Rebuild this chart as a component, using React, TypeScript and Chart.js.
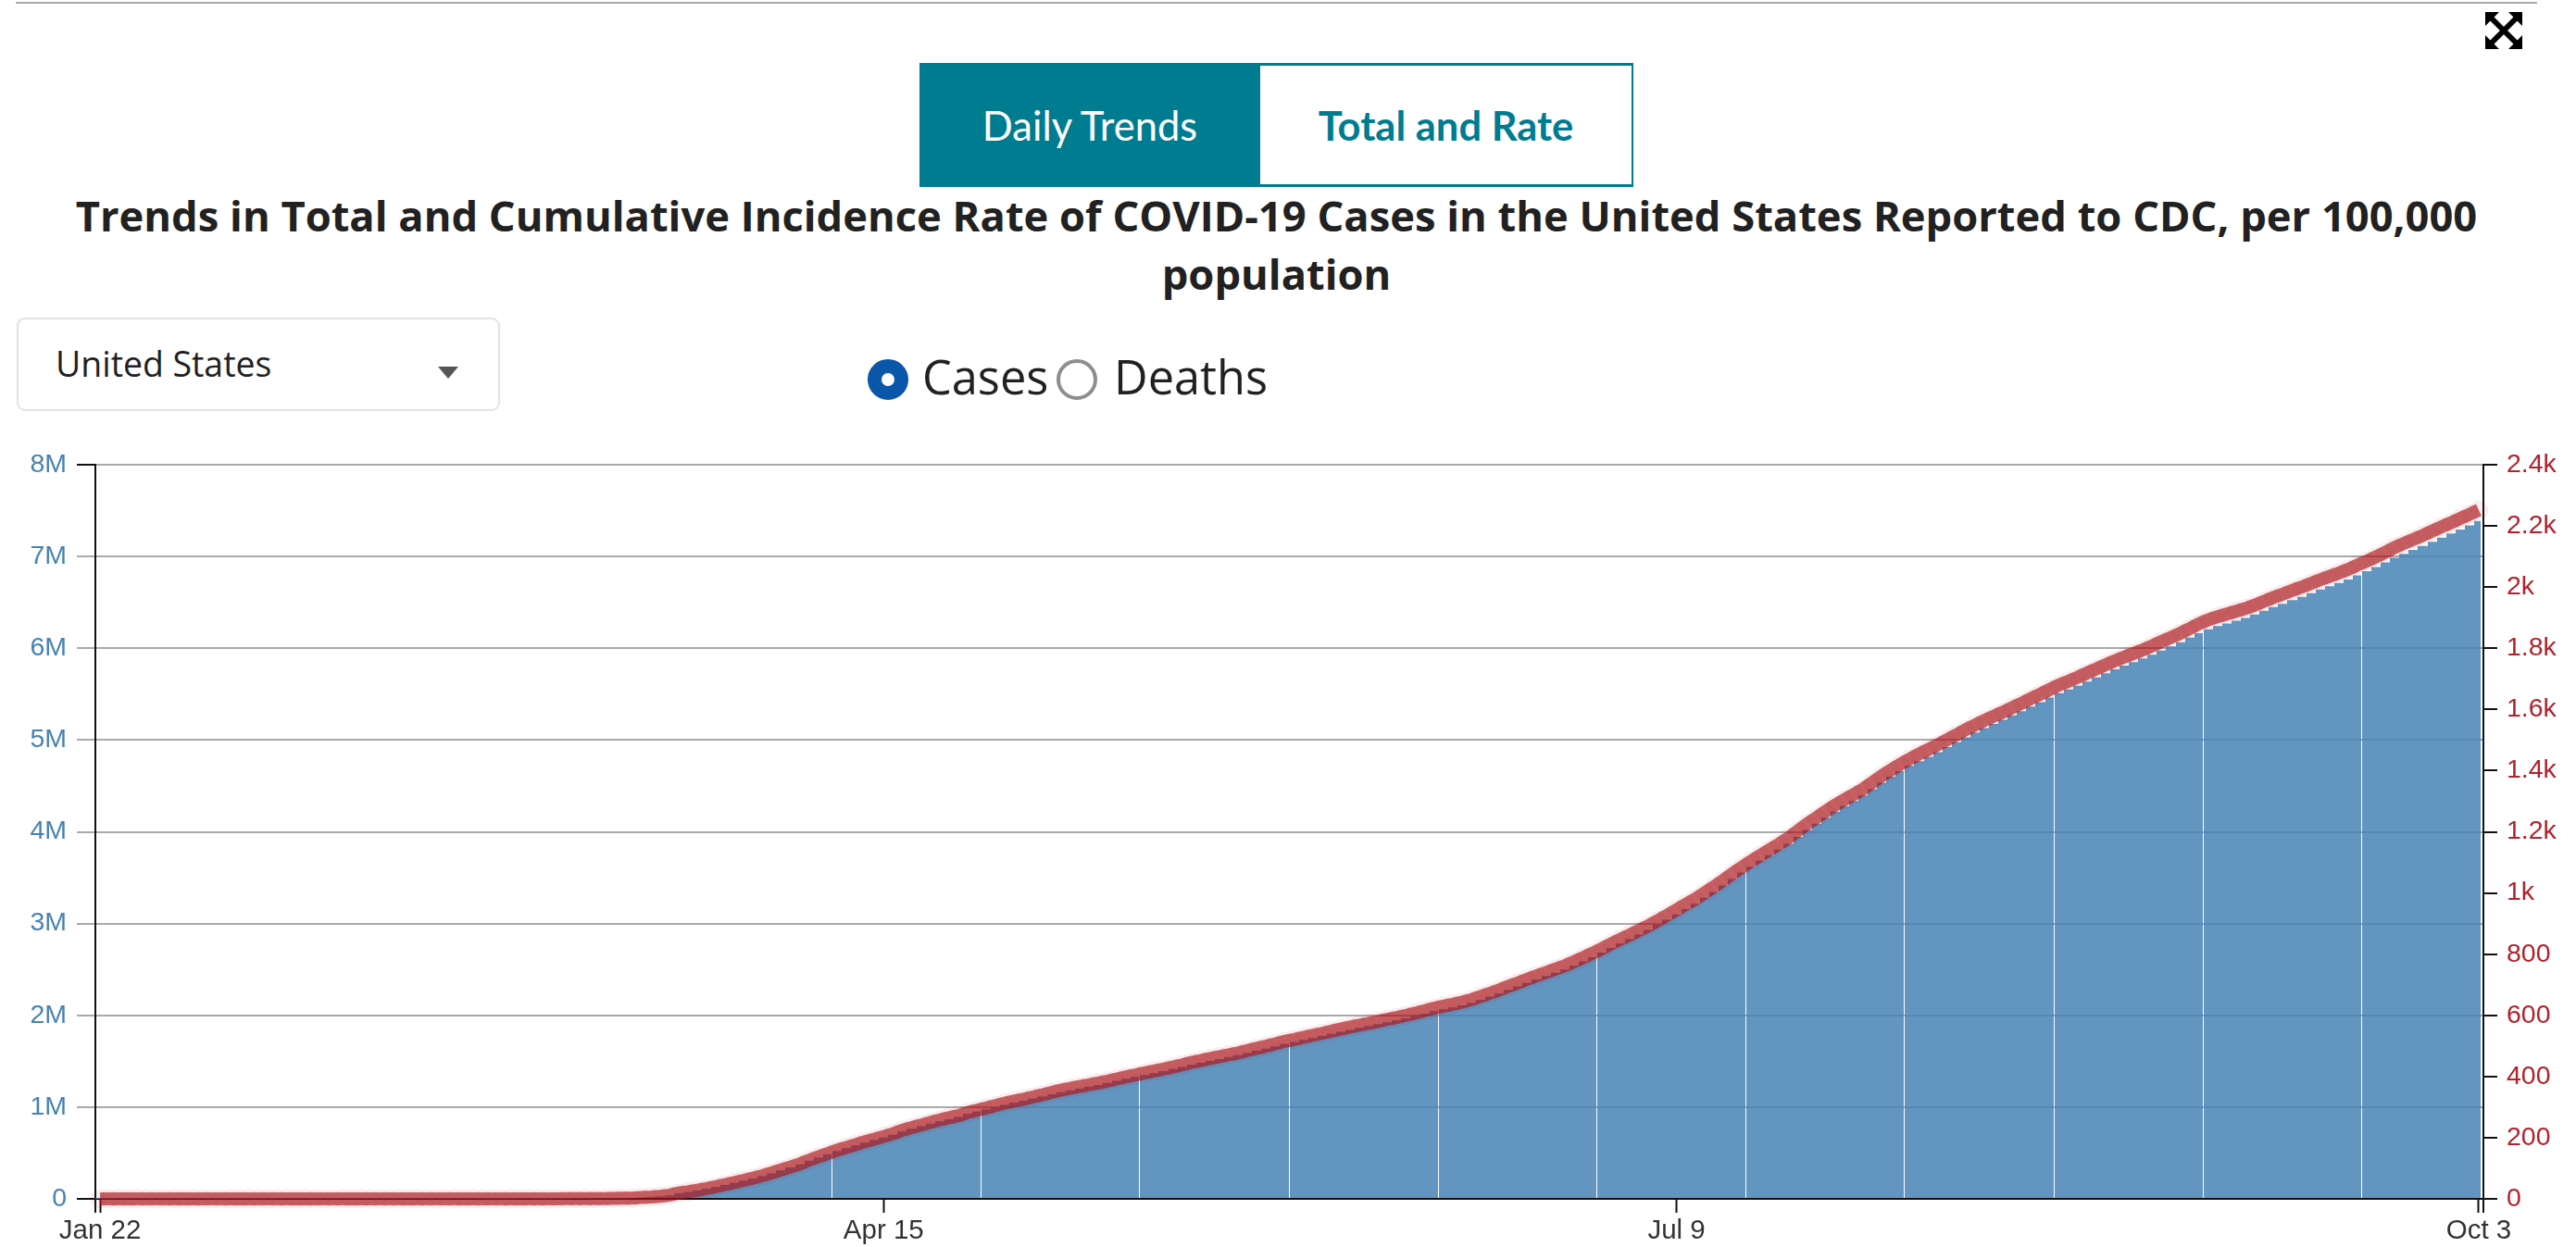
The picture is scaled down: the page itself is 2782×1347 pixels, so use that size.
import React, { useEffect, useRef } from "react";
import { Chart, registerables } from "chart.js";

Chart.register(...registerables);

const startLabels = ["Jan 22", "Apr 15", "Jul 9", "Oct 3"];
const labelledDays = [0, 84, 169, 255];
const casesTickLabels = ["0", "1M", "2M", "3M", "4M", "5M", "6M", "7M", "8M"];
const rateTickLabels = ["0", "200", "400", "600", "800", "1k", "1.2k", "1.4k", "1.6k", "1.8k", "2k", "2.2k", "2.4k"];
const seamDays = [78, 94, 111, 127, 143, 160, 176, 193, 209, 225, 242];

// total cases, thousands
const totalCases = [
  0.001, 0.001, 0.002, 0.002, 0.005, 0.005, 0.005, 0.005, 0.006, 0.006,
  0.007, 0.008, 0.008, 0.008, 0.008, 0.011, 0.011, 0.011, 0.012, 0.012,
  0.012, 0.012, 0.012, 0.012, 0.013, 0.013, 0.014, 0.014, 0.015, 0.015,
  0.015, 0.016, 0.016, 0.017, 0.019, 0.024, 0.042, 0.057, 0.064, 0.075,
  0.1, 0.12, 0.15, 0.2, 0.25, 0.35, 0.45, 0.58, 0.7, 0.95,
  1.3, 1.6, 2.2, 2.9, 3.5, 4.7, 6.4, 7.8, 13.7, 19.1,
  27, 38, 62, 75, 92, 110, 130, 152, 175, 198,
  222, 248, 278, 310, 342, 375, 415, 450, 485, 520,
  552, 582, 612, 640, 668, 698, 735, 765, 792, 820,
  845, 868, 892, 925, 950, 975, 1000, 1025, 1048, 1070,
  1092, 1116, 1140, 1163, 1183, 1203, 1222, 1242, 1264, 1287,
  1308, 1330, 1350, 1370, 1392, 1414, 1438, 1462, 1484, 1504,
  1524, 1545, 1566, 1590, 1614, 1638, 1662, 1688, 1710, 1732,
  1754, 1776, 1798, 1820, 1842, 1864, 1884, 1904, 1924, 1946,
  1968, 1992, 2018, 2045, 2065, 2085, 2108, 2136, 2170, 2205,
  2240, 2278, 2316, 2354, 2392, 2428, 2464, 2500, 2542, 2588,
  2634, 2684, 2734, 2784, 2832, 2880, 2930, 2985, 3042, 3100,
  3158, 3216, 3280, 3345, 3415, 3485, 3555, 3620, 3685, 3745,
  3805, 3870, 3945, 4020, 4088, 4155, 4220, 4280, 4335, 4395,
  4465, 4535, 4600, 4660, 4718, 4770, 4818, 4868, 4922, 4975,
  5030, 5082, 5130, 5175, 5220, 5268, 5315, 5365, 5412, 5462,
  5510, 5550, 5592, 5637, 5682, 5727, 5770, 5810, 5848, 5888,
  5930, 5975, 6020, 6065, 6115, 6165, 6208, 6242, 6270, 6300,
  6330, 6368, 6408, 6448, 6485, 6525, 6560, 6600, 6640, 6675,
  6710, 6750, 6795, 6840, 6885, 6935, 6985, 7030, 7072, 7115,
  7160, 7205, 7250, 7295, 7340, 7386,
];

// cumulative incidence per 100,000
const incidenceRate = [
  0, 0, 0, 0, 0, 0, 0, 0, 0, 0,
  0, 0, 0, 0, 0, 0, 0, 0, 0, 0,
  0, 0, 0, 0, 0, 0, 0, 0, 0, 0,
  0, 0, 0, 0, 0.01, 0.01, 0.01, 0.02, 0.02, 0.02,
  0.03, 0.04, 0.05, 0.06, 0.08, 0.11, 0.14, 0.18, 0.21, 0.29,
  0.4, 0.5, 0.7, 0.9, 1.1, 1.4, 2, 2.4, 4.2, 5.8,
  8.2, 11.6, 18.9, 22.9, 28, 33.5, 39.6, 46.3, 53.4, 60.4,
  67.7, 75.6, 84.8, 94.5, 104, 114, 126.5, 137, 148, 159,
  168, 177, 187, 195, 204, 213, 224, 233, 241, 250,
  258, 265, 272, 282, 290, 297, 305, 313, 320, 326,
  333, 340, 348, 355, 361, 367, 373, 379, 385, 392,
  399, 405, 412, 418, 424, 431, 438, 446, 452, 459,
  465, 471, 477, 485, 492, 499, 507, 515, 521, 528,
  535, 541, 548, 555, 562, 568, 574, 580, 587, 593,
  600, 607, 615, 623, 630, 636, 643, 651, 662, 672,
  683, 695, 706, 718, 729, 740, 751, 762, 775, 789,
  803, 818, 834, 849, 863, 878, 893, 910, 927, 945,
  963, 980, 1000, 1020, 1041, 1063, 1084, 1104, 1123, 1142,
  1160, 1180, 1203, 1226, 1246, 1267, 1287, 1305, 1322, 1340,
  1361, 1383, 1402, 1421, 1438, 1454, 1469, 1484, 1501, 1517,
  1534, 1549, 1564, 1578, 1591, 1606, 1620, 1636, 1650, 1665,
  1680, 1692, 1705, 1719, 1732, 1746, 1759, 1771, 1783, 1795,
  1808, 1822, 1835, 1849, 1864, 1880, 1893, 1903, 1912, 1921,
  1930, 1941, 1954, 1966, 1977, 1989, 2000, 2012, 2024, 2035,
  2046, 2058, 2072, 2085, 2099, 2114, 2130, 2143, 2156, 2169,
  2183, 2197, 2210, 2224, 2238, 2252,
];

const dayLabels = totalCases.map((_, i) => {
  const at = labelledDays.indexOf(i);
  return at >= 0 ? startLabels[at] : "";
});

const TEAL = "#007c91";
const Y_FONT = { family: "'Liberation Sans'", size: 28.5 };
const X_FONT = { family: "'Liberation Sans'", size: 29.5 };

// Snap the bars to whole pixels so neighbours do not seam, keeping only the chart's hairline gaps.
const snapBars = {
  id: "snapBars",
  afterDatasetsUpdate(chart: any) {
    const bars = chart.getDatasetMeta(1).data;
    const lefts = bars.map((b: any) => Math.round(b.x - b.width / 2));
    const end = Math.round(bars[bars.length - 1].x + bars[bars.length - 1].width / 2) - 3;
    bars.forEach((b: any, i: number) => {
      const right = i + 1 < lefts.length ? lefts[i + 1] : end;
      const w = right - lefts[i] - (seamDays.includes(i) ? 1 : 0);
      b.width = w;
      b.x = lefts[i] + w / 2;
    });
  },
};

// The two y axis lines run on below the baseline as outer ticks.
const outerTicks = {
  id: "outerTicks",
  afterDraw(chart: any) {
    const { ctx, chartArea } = chart;
    ctx.save();
    ctx.strokeStyle = "#111";
    ctx.lineWidth = 2;
    [chart.scales.y.right, chart.scales.yR.left].forEach((x: number) => {
      ctx.beginPath();
      ctx.moveTo(Math.round(x), chartArea.bottom);
      ctx.lineTo(Math.round(x), chartArea.bottom + 15);
      ctx.stroke();
    });
    ctx.restore();
  },
};

export default function App() {
  const ref = useRef<HTMLCanvasElement>(null);

  useEffect(() => {
    const chart = new Chart(ref.current as HTMLCanvasElement, {
      type: "bar",
      plugins: [snapBars, outerTicks],
      data: {
        labels: dayLabels,
        datasets: [
          {
            type: "line",
            data: incidenceRate,
            yAxisID: "yR",
            order: 0,
            clip: false,
            borderColor: "rgba(170,20,25,0.65)",
            borderWidth: 14,
            borderCapStyle: "butt",
            tension: 0,
            pointRadius: 10.5,
            pointHoverRadius: 10.5,
            pointBorderWidth: 0,
            pointBackgroundColor: "rgba(170,20,25,0.07)",
          },
          {
            type: "bar",
            data: totalCases,
            yAxisID: "y",
            order: 1,
            backgroundColor: "rgba(70,130,180,0.85)",
            borderWidth: 0,
            barPercentage: 1,
            categoryPercentage: 1,
            inflateAmount: 0,
          },
        ],
      } as any,
      options: {
        animation: false,
        responsive: false,
        layout: { padding: { top: 32, left: 0, right: 0, bottom: 0 } },
        plugins: { legend: { display: false }, tooltip: { enabled: false }, title: { display: false } },
        scales: {
          x: {
            type: "category",
            offset: true,
            afterBuildTicks: (s: any) => {
              s.ticks = labelledDays.map((d) => ({ value: d, label: dayLabels[d] }));
            },
            afterFit: (s: any) => { s.height = 52; },
            ticks: {
              autoSkip: false, maxRotation: 0, minRotation: 0, padding: 2,
              color: "#333", font: X_FONT,
              callback: (_: any, i: number) => startLabels[i],
            },
            grid: { offset: false, drawOnChartArea: false, drawTicks: true, tickLength: 15, tickColor: "#111", tickWidth: 2 },
            border: { display: true, color: "#111", width: 2 },
          },
          y: {
            position: "left", min: 0, max: 8000,
            afterFit: (s: any) => { s.width = 103; },
            ticks: {
              stepSize: 1000, color: "#4682b4", font: Y_FONT, padding: 11,
              callback: (v: any) => casesTickLabels[Math.round(v / 1000)],
            },
            grid: {
              color: (c: any) => (c.tick && c.tick.value === 0 ? "#111" : "#aaa"),
              lineWidth: 2,
              tickLength: 20,
              tickColor: (c: any) => (c.tick && (c.tick.value === 0 || c.tick.value === 8000) ? "#111" : "#aaa"),
            },
            border: { display: true, color: "#111", width: 2 },
          },
          yR: {
            position: "right", min: 0, max: 2400,
            afterFit: (s: any) => { s.width = 100; },
            ticks: {
              stepSize: 200, color: "#b2222b", font: Y_FONT, padding: 10,
              callback: (v: any) => rateTickLabels[Math.round(v / 200)],
            },
            grid: { drawOnChartArea: false, tickLength: 15, tickColor: "#111", lineWidth: 2, tickWidth: 2 },
            border: { display: true, color: "#111", width: 2 },
          },
        },
      } as any,
    });
    return () => chart.destroy();
  }, []);

  const abs = (l: number, t: number, extra: any = {}) => ({ position: "absolute", left: l, top: t, whiteSpace: "nowrap", ...extra });

  return (
    <div style={{ position: "absolute", left: 0, top: 0, width: 2782, height: 1347, overflow: "hidden", background: "#fff", fontFamily: "'Open Sans'", color: "#212121" } as any}>
      <div style={abs(17, 2, { width: 2723, height: 2, background: "#aaa" }) as any} />
      <svg viewBox="0 0 40 40" width={40} height={40} style={abs(2684, 13) as any}>
        <path d="M7 7L33 33M33 7L7 33" stroke="#000" strokeWidth={6} fill="none" />
        <path d="M0 0h15L0 15zM40 0v15L25 0zM0 40V25l15 15zM40 40H25l15-15z" fill="#000" />
      </svg>

      <div style={abs(993, 68, { width: 368, height: 134, background: TEAL, color: "#fff", font: "400 43.5px Lato", textAlign: "center", lineHeight: "134px" }) as any}>Daily Trends</div>
      <div style={abs(1361, 68, { width: 403, height: 134, boxSizing: "border-box", borderStyle: "solid", borderColor: TEAL, borderWidth: "3px 2px 3px 0", color: TEAL, font: "700 43.5px Lato", textAlign: "center", lineHeight: "128px" }) as any}>Total and Rate</div>

      <div style={abs(0, 201, { width: 2757, textAlign: "center", font: "700 45.3px 'Open Sans'", lineHeight: "63px" }) as any}>
        <div>Trends in Total and Cumulative Incidence Rate of COVID-19 Cases in the United States Reported to CDC, per 100,000</div>
        <div>population</div>
      </div>

      <div style={abs(18, 343, { width: 522, height: 101, boxSizing: "border-box", border: "2px solid #e2e2e2", borderRadius: 9 }) as any} />
      <div style={abs(60, 368, { font: "400 37.4px 'Open Sans'", lineHeight: "50px" }) as any}>United States</div>
      <div style={abs(473, 396, { width: 0, height: 0, borderLeft: "11px solid transparent", borderRight: "11px solid transparent", borderTop: "13px solid #555" }) as any} />

      <div style={abs(937, 388, { width: 44, height: 44, boxSizing: "border-box", borderRadius: "50%", border: "15px solid #0a56a8" }) as any} />
      <div style={abs(996, 372, { font: "400 50.5px 'Open Sans'", lineHeight: "70px" }) as any}>Cases</div>
      <div style={abs(1141, 388, { width: 44, height: 44, boxSizing: "border-box", borderRadius: "50%", border: "4px solid #8e8e8e" }) as any} />
      <div style={abs(1203, 372, { font: "400 50.5px 'Open Sans'", lineHeight: "70px" }) as any}>Deaths</div>

      <canvas ref={ref} width={2782} height={877} style={{ position: "absolute", left: 0, top: 470, display: "block" }} />
    </div>
  );
}
